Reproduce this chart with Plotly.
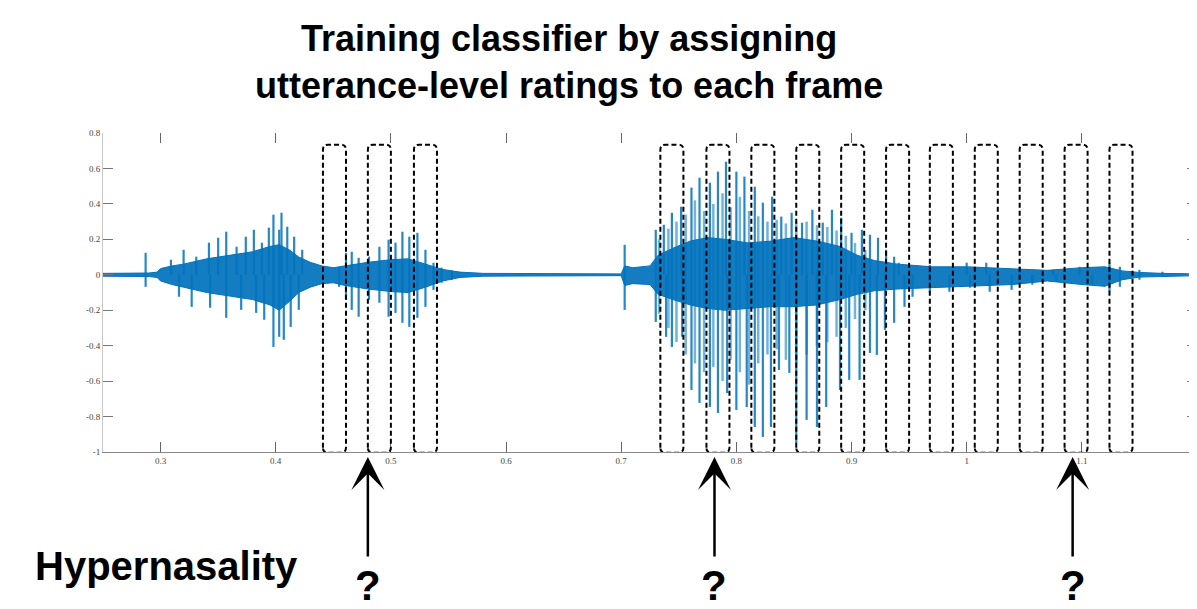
import plotly.graph_objects as go

# ---------------- data ----------------
# dense core envelope of the waveform
core_x  = [0.250, 0.290, 0.297, 0.300, 0.310, 0.320, 0.340, 0.360, 0.380, 0.395, 0.403, 0.412, 0.420,
           0.430, 0.440, 0.450, 0.460, 0.480, 0.500, 0.515, 0.530, 0.545, 0.560, 0.580, 0.700, 0.703,
           0.710, 0.725, 0.732, 0.745, 0.760, 0.775, 0.790, 0.810, 0.830, 0.850, 0.870, 0.890, 0.905,
           0.920, 0.940, 0.970, 1.000, 1.040, 1.070, 1.100, 1.120, 1.135, 1.150, 1.170, 1.200]
core_hi = [0.008, 0.010, 0.015, 0.035, 0.050, 0.060, 0.090, 0.110, 0.130, 0.160, 0.170, 0.140, 0.100,
           0.070, 0.050, 0.040, 0.050, 0.070, 0.085, 0.090, 0.060, 0.030, 0.015, 0.008, 0.005, 0.050,
           0.040, 0.050, 0.110, 0.150, 0.190, 0.210, 0.200, 0.180, 0.190, 0.210, 0.190, 0.160, 0.110,
           0.080, 0.060, 0.045, 0.045, 0.035, 0.025, 0.040, 0.045, 0.022, 0.013, 0.008, 0.005]
core_lo = [-0.008, -0.010, -0.015, -0.035, -0.055, -0.070, -0.100, -0.120, -0.140, -0.170, -0.200, -0.150, -0.100,
           -0.070, -0.050, -0.045, -0.060, -0.080, -0.095, -0.100, -0.070, -0.035, -0.015, -0.008, -0.005, -0.060,
           -0.050, -0.055, -0.110, -0.140, -0.170, -0.190, -0.200, -0.190, -0.180, -0.180, -0.170, -0.140, -0.110,
           -0.090, -0.080, -0.070, -0.065, -0.055, -0.035, -0.055, -0.065, -0.028, -0.013, -0.008, -0.005]

# main positive peaks
peak_up_x = [0.287, 0.309, 0.320, 0.331, 0.342, 0.350, 0.357, 0.366, 0.374, 0.381, 0.388, 0.394, 0.398,
             0.403, 0.405, 0.410, 0.416, 0.423,
             0.455, 0.461, 0.466, 0.472, 0.481, 0.490, 0.498, 0.504, 0.510, 0.516, 0.523, 0.530, 0.537,
             0.544, 0.553,
             0.703, 0.730, 0.737, 0.744, 0.752, 0.761, 0.768, 0.777, 0.784, 0.791, 0.800, 0.807, 0.816,
             0.823, 0.831, 0.839, 0.848, 0.857, 0.866, 0.875, 0.883, 0.891, 0.900, 0.909, 0.916, 0.923,
             0.930, 0.937, 0.941, 0.968, 1.000, 1.017, 1.046, 1.075, 1.098, 1.124, 1.133, 1.150, 1.170]
peak_up_y = [0.124, 0.085, 0.141, 0.102, 0.181, 0.209, 0.243, 0.158, 0.215, 0.254, 0.181, 0.266, 0.339,
             0.254, 0.350, 0.271, 0.215, 0.141,
             0.040, 0.124, 0.130, 0.096, 0.102, 0.158, 0.198, 0.181, 0.243, 0.215, 0.237, 0.141, 0.068,
             0.040, 0.023,
             0.169, 0.254, 0.282, 0.350, 0.384, 0.492, 0.548, 0.520, 0.582, 0.638, 0.582, 0.554, 0.497,
             0.407, 0.441, 0.328, 0.350, 0.294, 0.367, 0.294, 0.367, 0.322, 0.237, 0.254, 0.226, 0.209,
             0.141, 0.102, 0.068, 0.056, 0.068, 0.068, 0.045, 0.028, 0.045, 0.068, 0.045, 0.028, 0.017]

# main negative peaks
peak_dn_x = [0.287, 0.316, 0.327, 0.343, 0.357, 0.370, 0.383, 0.390, 0.398, 0.403, 0.407, 0.413, 0.420,
             0.455, 0.461, 0.466, 0.472, 0.481, 0.490, 0.498, 0.504, 0.510, 0.516, 0.523, 0.530, 0.537,
             0.544, 0.553,
             0.703, 0.730, 0.739, 0.744, 0.753, 0.761, 0.768, 0.777, 0.784, 0.792, 0.800, 0.809, 0.816,
             0.823, 0.830, 0.837, 0.846, 0.852, 0.861, 0.870, 0.878, 0.890, 0.898, 0.907, 0.916, 0.922,
             0.929, 0.937, 0.946, 0.953, 0.968, 0.985, 1.003, 1.020, 1.039, 1.057, 1.078, 1.109, 1.124,
             1.133, 1.150]
peak_dn_y = [-0.068, -0.124, -0.181, -0.186, -0.243, -0.198, -0.215, -0.254, -0.407, -0.350, -0.367, -0.294, -0.198,
             -0.068, -0.141, -0.198, -0.237, -0.141, -0.158, -0.237, -0.215, -0.271, -0.294, -0.243, -0.181, -0.085,
             -0.045, -0.028,
             -0.198, -0.266, -0.350, -0.407, -0.350, -0.650, -0.723, -0.746, -0.780, -0.667, -0.763, -0.746, -0.859,
             -0.915, -0.859, -0.537, -0.554, -0.949, -0.819, -0.859, -0.746, -0.650, -0.593, -0.593, -0.441, -0.452,
             -0.311, -0.271, -0.181, -0.124, -0.100, -0.096, -0.073, -0.096, -0.085, -0.056, -0.040, -0.056, -0.096,
             -0.068, -0.028]

# secondary (lighter) strokes in the second word
mid_x    = [0.733, 0.741, 0.748, 0.756, 0.764, 0.772, 0.780, 0.788, 0.795, 0.803, 0.811, 0.819,
            0.827, 0.835, 0.843, 0.852, 0.861, 0.870, 0.879, 0.887, 0.895, 0.903, 0.912]
mid_up_y = [0.20, 0.26, 0.30, 0.34, 0.42, 0.36, 0.40, 0.46, 0.38, 0.44, 0.36, 0.33,
            0.30, 0.31, 0.29, 0.30, 0.30, 0.28, 0.27, 0.25, 0.22, 0.18, 0.14]
mid_dn_y = [-0.22, -0.30, -0.38, -0.45, -0.50, -0.55, -0.52, -0.60, -0.48, -0.55, -0.62, -0.50,
            -0.45, -0.42, -0.48, -0.50, -0.45, -0.40, -0.38, -0.35, -0.30, -0.25, -0.20]

# frame windows (left edges), window width, box top / bottom
frame_starts = [0.441, 0.480, 0.520,
                0.734, 0.774, 0.813, 0.852, 0.891, 0.930, 0.968, 1.007, 1.046, 1.085, 1.124]
frame_width = 0.020
frame_top = 0.734
frame_bottom = -1.004

# arrows / question marks
arrow_x = [0.480, 0.781, 1.092]

x_ticks = [0.3, 0.4, 0.5, 0.6, 0.7, 0.8, 0.9, 1.0, 1.1, 1.2]
x_tick_text = ["0.3", "0.4", "0.5", "0.6", "0.7", "0.8", "0.9", "1", "1.1", "1.2"]
y_ticks = [-1, -0.8, -0.6, -0.4, -0.2, 0, 0.2, 0.4, 0.6, 0.8]
y_tick_text = ["-1", "-0.8", "-0.6", "-0.4", "-0.2", "0", "0.2", "0.4", "0.6", "0.8"]

title_text = "Training classifier by assigning<br>utterance-level ratings to each frame"
label_text = "Hypernasality"

BLUE = "#0072bd"

# ---------------- figure ----------------
fig = go.Figure()

# core band
fig.add_trace(go.Scatter(
    x=core_x + core_x[::-1], y=core_hi + core_lo[::-1],
    fill="toself", fillcolor="rgba(0,114,189,0.92)", mode="lines",
    line=dict(color=BLUE, width=1), hoverinfo="skip", showlegend=False))

# secondary strokes
mx, my = [], []
for x, yu, yd in zip(mid_x, mid_up_y, mid_dn_y):
    mx += [x, x, None]
    my += [yd, yu, None]
fig.add_trace(go.Scatter(
    x=mx, y=my, mode="lines", line=dict(color="rgba(0,114,189,0.55)", width=2.5),
    hoverinfo="skip", showlegend=False))

# main peaks as vertical strokes from 0
sx, sy = [], []
for x, y in zip(peak_up_x, peak_up_y):
    sx += [x, x, None]
    sy += [0, y, None]
for x, y in zip(peak_dn_x, peak_dn_y):
    sx += [x, x, None]
    sy += [0, y, None]
fig.add_trace(go.Scatter(
    x=sx, y=sy, mode="lines", line=dict(color="rgba(0,114,189,0.85)", width=2.2),
    hoverinfo="skip", showlegend=False))

# invisible trace on the top x axis so ticks show there
fig.add_trace(go.Scatter(x=[0.25, 1.2], y=[0, 0], xaxis="x2", mode="lines",
                         line=dict(width=0), hoverinfo="skip", showlegend=False))

# dashed rounded frame boxes
rx, ry = 0.0045, 0.028
shapes = []
for a in frame_starts:
    b = a + frame_width
    t, u = frame_top, frame_bottom
    path = (f"M {a},{u+ry} L {a},{t-ry} Q {a},{t} {a+rx},{t} L {b-rx},{t} Q {b},{t} {b},{t-ry} "
            f"L {b},{u+ry} Q {b},{u} {b-rx},{u} L {a+rx},{u} Q {a},{u} {a},{u+ry} Z")
    shapes.append(dict(type="path", path=path, xref="x", yref="y", layer="above",
                       line=dict(color="black", width=2, dash="5px,3px")))

annotations = []
annotations.append(dict(text=f"<b>{title_text}</b>", xref="paper", yref="paper", x=0.426, y=1.2226,
                        xanchor="center", yanchor="middle", showarrow=False,
                        font=dict(family="Liberation Sans, Arial", size=36, color="black")))
annotations.append(dict(text=f"<b>{label_text}</b>", xref="paper", yref="paper", x=0.0576, y=-0.357,
                        xanchor="center", yanchor="middle", showarrow=False,
                        font=dict(family="Liberation Sans, Arial", size=40, color="black")))
for ax_ in arrow_x:
    annotations.append(dict(text="", x=ax_, y=-0.0157, xref="x", yref="paper", ax=0, ay=101,
                            axref="pixel", ayref="pixel", showarrow=True, arrowhead=3,
                            arrowsize=2.2, arrowwidth=2.5, arrowcolor="black", standoff=0))
    annotations.append(dict(text="<b>?</b>", x=ax_, y=-0.418, xref="x", yref="paper",
                            xanchor="center", yanchor="middle", showarrow=False,
                            font=dict(family="Liberation Sans, Arial", size=42, color="black")))

tickfont = dict(family="Liberation Serif, Times New Roman", size=9, color="#444")
# the page body adds an 8px offset, so the figure is 8px smaller on each side
fig.update_layout(
    width=1189, height=601,
    margin=dict(l=95, r=0, t=125, b=157, autoexpand=False),
    paper_bgcolor="white", plot_bgcolor="white",
    shapes=shapes, annotations=annotations,
    xaxis=dict(range=[0.25, 1.2], tickvals=x_ticks, ticktext=x_tick_text, ticks="inside",
               ticklen=10, tickcolor="#666", showline=True, linecolor="#888", linewidth=1,
               showgrid=False, zeroline=False, tickfont=tickfont),
    xaxis2=dict(range=[0.25, 1.2], overlaying="x", side="top", tickvals=x_ticks, ticks="inside",
                ticklen=10, tickcolor="#666", showline=False, showticklabels=False,
                showgrid=False, zeroline=False),
    yaxis=dict(range=[-1, 0.8], tickvals=y_ticks, ticktext=y_tick_text, ticks="inside",
               ticklen=10, tickcolor="#777", showline=True, linecolor="#c8c8c8", linewidth=1,
               mirror="ticks", showgrid=False, zeroline=False, tickfont=tickfont),
)

fig.write_html("out.html")
